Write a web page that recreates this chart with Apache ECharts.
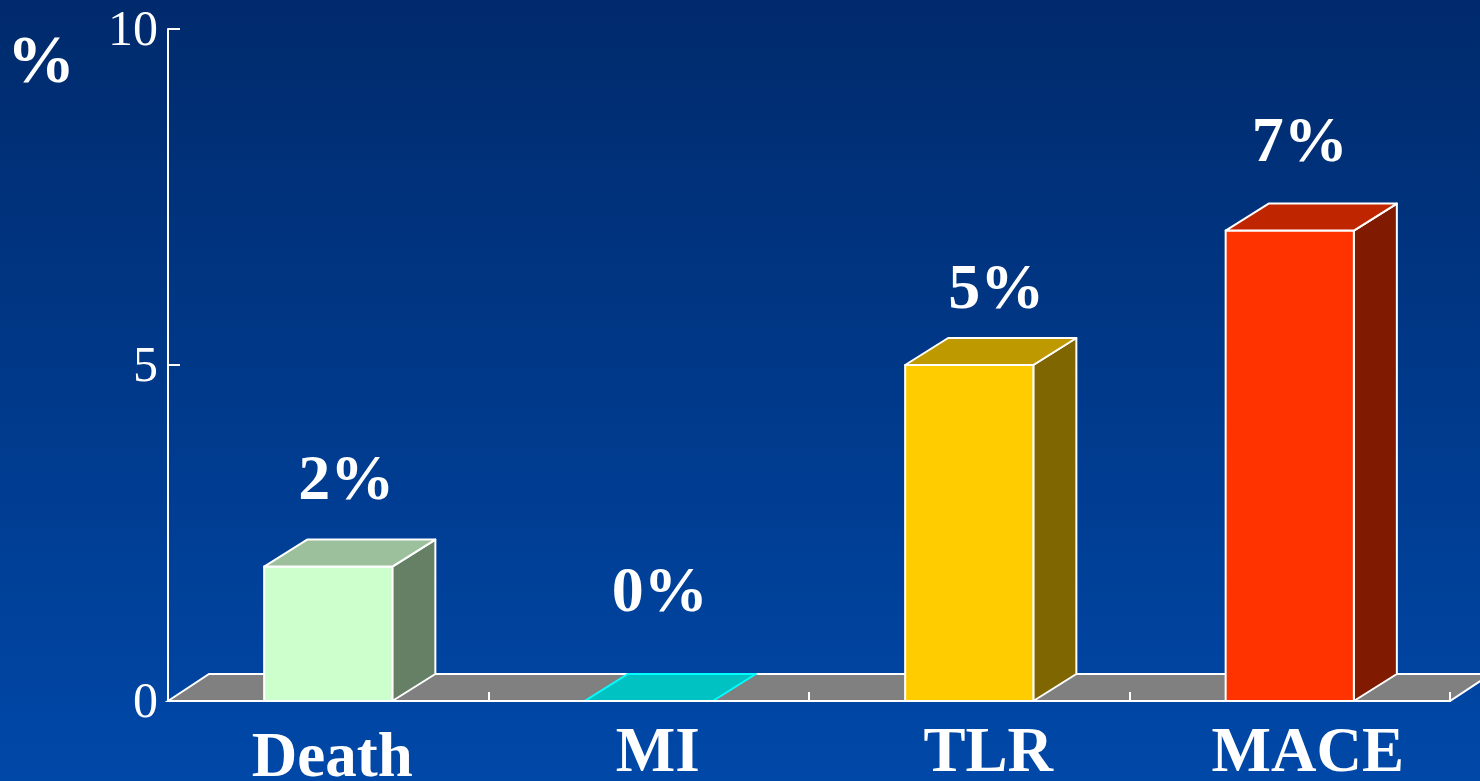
<!DOCTYPE html>
<html>
<head>
<meta charset="utf-8">
<title>Death, MI, TLR, MACE</title>
<script src="https://cdn.jsdelivr.net/npm/echarts@6/dist/echarts.min.js"></script>
<style>
  html, body { margin: 0; padding: 0; width: 100%; height: 100%; overflow: hidden; }
  #chart { width: 1480px; height: 781px; }
</style>
</head>
<body>
<div id="chart"></div>
<script>
const categories = ['Death', 'MI', 'TLR', 'MACE']
const values = [2, 0, 5, 7]
const valueLabels = ['2%', '0%', '5%', '7%']
const yTicks = [0, 5, 10]

// colours per bar: front, top, side, border
const barColors = [
  ['#ccffcc', '#9cbf9c', '#668066', '#ffffff'],
  ['#00ffff', '#00c2c2', '#008080', '#00ffff'],
  ['#ffcc00', '#bf9900', '#806600', '#ffffff'],
  ['#ff3300', '#bf2600', '#801a00', '#ffffff']
]

// the labels do not sit at one fixed distance from the bars in the original
const labelShiftX = [18, 11, 27, 10]
const labelShiftY = [84, 107, 74, 86]
const categoryShiftX = [4, 9, 19, 18]
const categoryShiftY = [5, 0, 0, 0]

const depthX = 43
const depthY = 27
const serif = '"Liberation Serif", "Times New Roman", serif'

const chart = echarts.init(document.getElementById('chart'))

const renderFloor = (params, api) => {
  const sys = params.coordSys
  const y = api.coord([categories[0], 0])[1]
  const x0 = sys.x
  const x1 = sys.x + sys.width
  return {
    type: 'polygon',
    shape: { points: [[x0, y], [x0 + 41, y - depthY], [x1 + 41, y - depthY], [x1, y]] },
    style: { fill: '#808080', stroke: '#ffffff', lineWidth: 2 }
  }
}

const renderBar = (params, api) => {
  const i = params.dataIndex
  const base = api.coord([i, 0])
  const top = api.coord([i, api.value(1)])
  const half = api.size([1, 0])[0] * 0.4 / 2
  const l = base[0] - half
  const r = base[0] + half
  const c = barColors[i]
  const stroke = { stroke: c[3], lineWidth: 2, lineJoin: 'round' }
  const children = []
  if (api.value(1) > 0) {
    children.push({
      type: 'polygon',
      shape: { points: [[r, base[1]], [r + depthX, base[1] - depthY], [r + depthX, top[1] - depthY], [r, top[1]]] },
      style: { fill: c[2], ...stroke }
    })
    children.push({
      type: 'polygon',
      shape: { points: [[l, base[1]], [r, base[1]], [r, top[1]], [l, top[1]]] },
      style: { fill: c[0], ...stroke }
    })
  }
  children.push({
    type: 'polygon',
    shape: { points: [[l, top[1]], [l + depthX, top[1] - depthY], [r + depthX, top[1] - depthY], [r, top[1]]] },
    style: { fill: c[1], ...stroke }
  })
  children.push({
    type: 'text',
    style: {
      text: valueLabels[i],
      x: base[0] + labelShiftX[i],
      y: top[1] - labelShiftY[i],
      fill: '#ffffff',
      font: 'bold 64px ' + serif,
      align: 'center',
      verticalAlign: 'middle'
    }
  })
  return { type: 'group', children }
}

const categoryRich = {}
categories.forEach((name, i) => {
  categoryRich['c' + i] = {
    color: '#ffffff',
    fontFamily: serif,
    fontWeight: 'bold',
    fontSize: 63,
    padding: [categoryShiftY[i], 0, 0, categoryShiftX[i] * 2]
  }
})

const option = {
  animation: false,
  backgroundColor: new echarts.graphic.LinearGradient(0, 0, 0, 1, [
    { offset: 0, color: '#002a6c' },
    { offset: 1, color: '#0048a8' }
  ]),
  title: {
    text: '%',
    left: 2,
    top: 25,
    textStyle: { color: '#ffffff', fontFamily: serif, fontWeight: 'bold', fontSize: 68 }
  },
  grid: { left: 168, right: 30, top: 29, bottom: 80, outerBoundsMode: 'none' },
  xAxis: {
    type: 'category',
    data: categories,
    z: 4,
    axisLine: { lineStyle: { color: '#ffffff', width: 2 } },
    axisTick: { show: true, inside: true, length: 9, alignWithLabel: false, lineStyle: { color: '#ffffff', width: 2 } },
    axisLabel: {
      interval: 0,
      margin: 22,
      formatter: (value) => `{c${categories.indexOf(value)}|${value}}`,
      rich: categoryRich
    }
  },
  yAxis: {
    type: 'value',
    min: yTicks[0],
    max: yTicks[yTicks.length - 1],
    interval: yTicks[1] - yTicks[0],
    z: 4,
    splitLine: { show: false },
    axisLine: { show: true, lineStyle: { color: '#ffffff', width: 2 } },
    axisTick: { show: true, inside: true, length: 12, lineStyle: { color: '#ffffff', width: 2 } },
    axisLabel: {
      margin: 10,
      showMinLabel: true,
      showMaxLabel: true,
      formatter: (value) => `{n|${value}}`,
      rich: {
        n: { color: '#ffffff', fontFamily: serif, fontSize: 50, padding: [6, 0, 0, 0] }
      }
    }
  },
  series: [
    {
      type: 'custom',
      name: 'floor',
      clip: false,
      z: 1,
      silent: true,
      renderItem: renderFloor,
      data: [0]
    },
    {
      type: 'custom',
      name: 'rate',
      clip: false,
      z: 2,
      encode: { x: 0, y: 1 },
      renderItem: renderBar,
      data: values.map((v, i) => [i, v])
    }
  ]
}

chart.setOption(option)
</script>
</body>
</html>
